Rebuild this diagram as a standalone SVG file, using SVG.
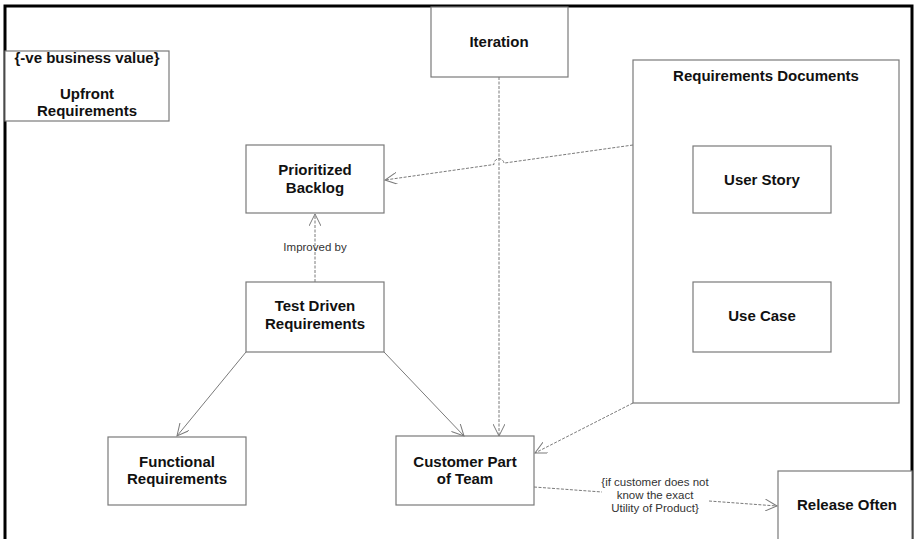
<svg xmlns="http://www.w3.org/2000/svg" width="917" height="539" viewBox="0 0 917 539">
<defs>
<style>
.box{fill:#fff;stroke:#7a7a7a;stroke-width:1.2}
.t{font-family:"Liberation Sans",Arial,sans-serif;font-weight:bold;font-size:15px;fill:#111;text-anchor:middle}
.s{font-family:"Liberation Sans",Arial,sans-serif;font-size:11.5px;fill:#333;text-anchor:middle}
.c{fill:none;stroke:#7a7a7a;stroke-width:1}
.d{stroke-dasharray:3 1.5}
</style>
<marker id="arr" markerUnits="userSpaceOnUse" markerWidth="14" markerHeight="12" refX="12" refY="6" orient="auto">
<path d="M0,0 L12,6 L0,12" fill="none" stroke="#7a7a7a" stroke-width="1"/>
</marker>
</defs>
<rect x="0" y="0" width="917" height="539" fill="#fff"/>
<path d="M5,545 V6 H912 V545" fill="none" stroke="#000" stroke-width="3"/>

<g id="upfront">
<rect class="box" x="5" y="51" width="164" height="70"/>
<text class="t" x="87" y="63">{-ve business value}</text>
<text class="t" x="87" y="99">Upfront</text>
<text class="t" x="87" y="116">Requirements</text>
</g>

<g id="iteration">
<rect class="box" x="431" y="7" width="137" height="70"/>
<text class="t" x="499" y="47">Iteration</text>
</g>

<g id="reqdocs">
<rect class="box" x="633" y="60" width="266" height="343"/>
<text class="t" x="766" y="81">Requirements Documents</text>
</g>

<g id="userstory">
<rect class="box" x="693" y="146" width="138" height="67"/>
<text class="t" x="762" y="185">User Story</text>
</g>

<g id="usecase">
<rect class="box" x="693" y="282" width="138" height="70"/>
<text class="t" x="762" y="321">Use Case</text>
</g>

<g id="backlog">
<rect class="box" x="246" y="145" width="138" height="68"/>
<text class="t" x="315" y="175">Prioritized</text>
<text class="t" x="315" y="193">Backlog</text>
</g>

<g id="tdr">
<rect class="box" x="246" y="282" width="138" height="70"/>
<text class="t" x="315" y="311">Test Driven</text>
<text class="t" x="315" y="329">Requirements</text>
</g>

<g id="functional">
<rect class="box" x="108" y="437" width="138" height="68"/>
<text class="t" x="177" y="467">Functional</text>
<text class="t" x="177" y="484">Requirements</text>
</g>

<g id="customer">
<rect class="box" x="396" y="436" width="138" height="69"/>
<text class="t" x="465" y="467">Customer Part</text>
<text class="t" x="465" y="484">of Team</text>
</g>

<g id="release">
<rect class="box" x="778" y="471" width="134" height="100"/>
<text class="t" x="847" y="510">Release Often</text>
</g>

<g id="connectors">
<path class="c d" d="M499,77 V436" marker-end="url(#arr)"/>
<path class="c d" d="M633,145 L504,163.1 A5,5 0 0 0 494,164.5 L385,180" marker-end="url(#arr)"/>
<path class="c d" d="M315,282 V214" marker-end="url(#arr)"/>
<path class="c" d="M246,352 L177,436" marker-end="url(#arr)"/>
<path class="c" d="M384,352 L464,436" marker-end="url(#arr)"/>
<path class="c d" d="M633,403 L535,453" marker-end="url(#arr)"/>
<path class="c d" d="M534,487 L602,492"/>
<path class="c d" d="M709,501 L777,506" marker-end="url(#arr)"/>
<text class="s" x="315" y="251">Improved by</text>
<text class="s" x="655" y="486">{if customer does not</text>
<text class="s" x="655" y="499">know the exact</text>
<text class="s" x="655" y="512">Utility of Product}</text>
</g>
</svg>
